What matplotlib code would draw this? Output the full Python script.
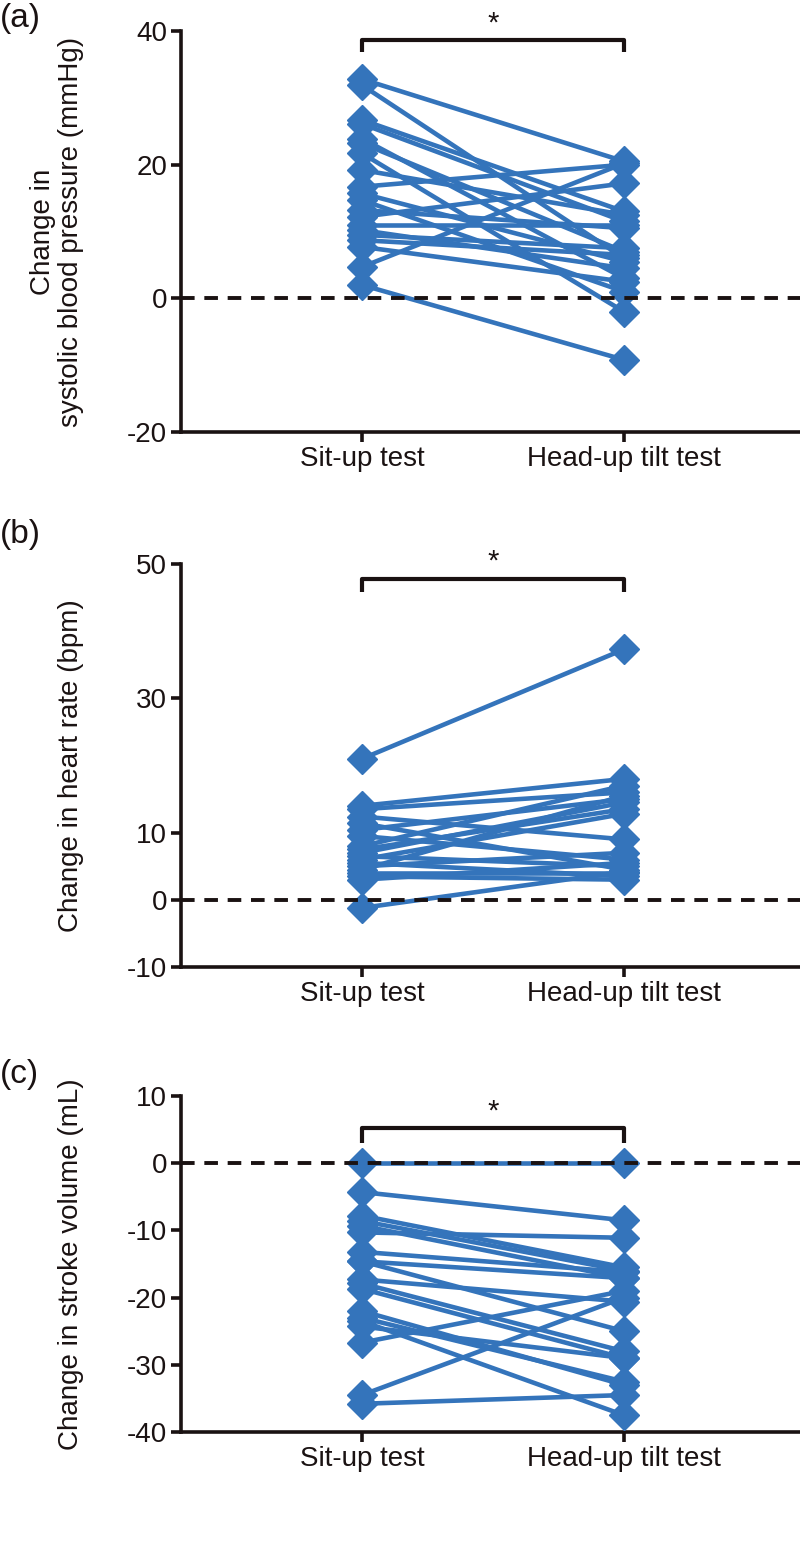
import matplotlib.pyplot as plt
import matplotlib

matplotlib.rcParams['font.family'] = ['Liberation Sans', 'DejaVu Sans']
matplotlib.rcParams['font.size'] = 20
matplotlib.rcParams['axes.unicode_minus'] = False

conditions = ['Sit-up test', 'Head-up tilt test']

# (a) change in systolic blood pressure (mmHg), sit-up / head-up tilt
sbp_sit = [32.8, 31.9, 26.7, 26.1, 23.9, 23.2, 21.7, 19.2, 16.7, 15.7,
           14.7, 13.2, 12.2, 10.9, 10.2, 9.5, 8.7, 7.7, 4.7, 2.0]
sbp_hut = [20.5, 6.0, 13.0, 11.5, 3.0, 7.0, -2.0, 12.5, 20.0, 5.5,
           1.0, 10.5, 17.2, 10.9, 4.5, 7.5, 6.5, 2.5, 20.2, -9.2]

# (b) change in heart rate (bpm)
hr_sit = [21.0, 14.0, 13.5, 12.4, 11.4, 10.4, 9.5, 8.0, 7.5, 7.0,
          6.5, 6.0, 5.5, 5.0, 4.5, 4.0, 3.5, 3.0, -1.2]
hr_hut = [37.3, 18.0, 16.0, 9.0, 4.5, 15.0, 6.0, 17.0, 13.5, 14.5,
          5.0, 12.8, 3.5, 7.0, 15.5, 4.0, 3.0, 5.5, 4.2]

# (c) change in stroke volume (mL)
sv_sit = [0.0, -4.3, -7.8, -8.6, -9.3, -10.3, -13.2, -14.6, -14.6, -17.3,
          -17.9, -18.7, -22.0, -23.0, -24.3, -23.5, -26.7, -34.5, -35.8]
sv_hut = [0.0, -8.5, -15.5, -16.0, -17.1, -11.1, -16.2, -17.1, -25.0, -20.6,
          -28.0, -29.0, -33.0, -32.5, -29.0, -37.5, -19.0, -20.0, -34.5]

# letter, sit, hut, ylabel, ylim, yticks, bracket, axes top/bottom px, letter y px, label x
panels = [
    ('(a)', sbp_sit, sbp_hut, 'Change in\nsystolic blood pressure (mmHg)',
     (-20, 40), [40, 20, 0, -20], (38.6, 36.8), 31, 432, 18, -0.157),
    ('(b)', hr_sit, hr_hut, 'Change in heart rate (bpm)',
     (-10, 50), [50, 30, 10, 0, -10], (47.8, 45.8), 564, 967, 535, -0.156),
    ('(c)', sv_sit, sv_hut, 'Change in stroke volume (mL)',
     (-40, 10), [10, 0, -10, -20, -30, -40], (5.2, 3.0), 1096, 1432, 1075, -0.156),
]

W, H = 800, 1551
blue = '#3474bb'
ink = '#1a1212'
fig = plt.figure(figsize=(W / 100, H / 100), dpi=100)

for letter, sit, hut, ylabel, ylim, yticks, brk, top, bot, ly, lx in panels:
    ax = fig.add_axes([181 / W, 1 - bot / H, (W - 181) / W, (bot - top) / H])
    for a, b in zip(sit, hut):
        ax.plot([1, 2], [a, b], color=blue, lw=3.3, marker='D', ms=15,
                mec=blue, mfc=blue, zorder=3)
    ax.axhline(0, color=ink, lw=2.8, ls=(0, (3.5, 2.5)), zorder=4)
    # significance bracket
    ax.plot([1, 1, 2, 2], [brk[1], brk[0], brk[0], brk[1]], color=ink,
            lw=3, solid_capstyle='butt', clip_on=False)
    ax.text(1.5, brk[0] + (ylim[1] - ylim[0]) * 0.008, '*', ha='center',
            va='bottom', fontsize=21, color=ink)

    ax.set_xlim(1 - 181 / 262, 2 + 176 / 262)
    ax.set_ylim(*ylim)
    ax.set_yticks(yticks)
    ax.set_xticks([1, 2])
    ax.set_xticklabels(conditions)
    for s in ['top', 'right']:
        ax.spines[s].set_visible(False)
    for s in ['left', 'bottom']:
        ax.spines[s].set_linewidth(2.6)
        ax.spines[s].set_color(ink)
    ax.tick_params(width=2.6, length=7, color=ink, labelcolor=ink,
                   labelsize=20, pad=3)
    ax.set_ylabel(ylabel, fontsize=20, linespacing=1.1, color=ink)
    ax.yaxis.set_label_coords(lx, 0.5)
    fig.text(0.0, 1 - ly / H, letter, fontsize=24, va='center', ha='left',
             color=ink)

fig.savefig('out.png', dpi=100)
